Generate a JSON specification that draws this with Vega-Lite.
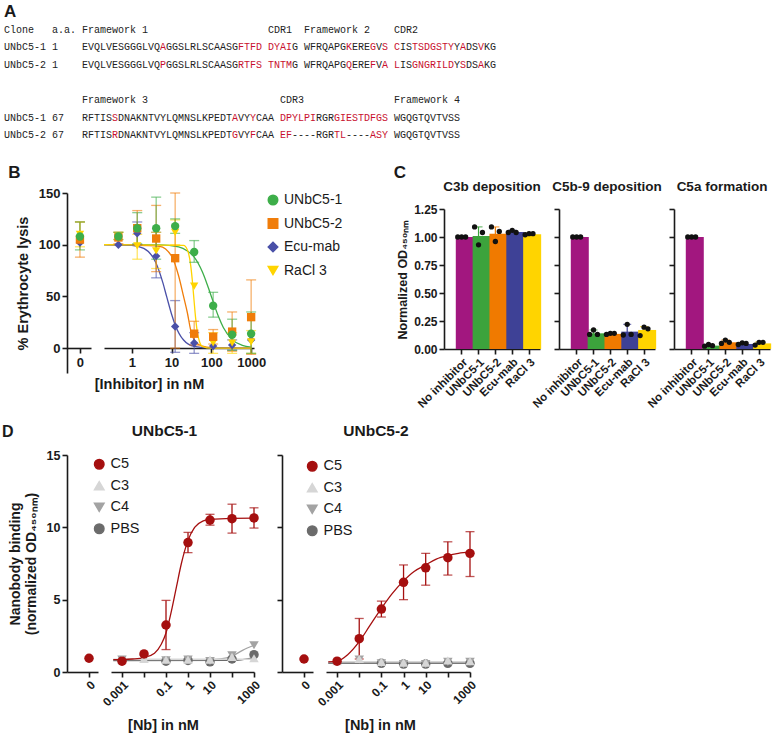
{
  "$schema": "https://vega.github.io/schema/vega-lite/v6.json",
  "background": "white",
  "padding": {"left": 2, "top": 2, "right": 2, "bottom": 2},
  "spacing": 13,
  "resolve": {"scale": {"color": "independent", "shape": "independent"}, "legend": {"color": "independent", "shape": "independent"}},
  "config": {
    "font": "Liberation Sans",
    "view": {"stroke": null},
    "axis": {"grid": false, "domainColor": "#1a1a1a", "tickColor": "#1a1a1a", "domainWidth": 1.6, "tickWidth": 1.6, "tickSize": 5, "labelColor": "#1a1a1a", "labelFontWeight": "bold", "labelFont": "Liberation Sans", "titleFont": "Liberation Sans", "titleFontWeight": "bold", "titleColor": "#1a1a1a"},
    "legend": {"labelFont": "Liberation Sans", "labelColor": "#1a1a1a"},
    "title": {"font": "Liberation Sans", "color": "#1a1a1a"}
  },
  "datasets": {
    "seq": [
      {"line": 1, "col": 0, "txt": "Clone", "hl": "n"},
      {"line": 1, "col": 8, "txt": "a.a.", "hl": "n"},
      {"line": 1, "col": 13, "txt": "Framework 1", "hl": "n"},
      {"line": 1, "col": 44, "txt": "CDR1", "hl": "n"},
      {"line": 1, "col": 50, "txt": "Framework 2", "hl": "n"},
      {"line": 1, "col": 65, "txt": "CDR2", "hl": "n"},
      {"line": 2, "col": 0, "txt": "UNbC5-1", "hl": "n"},
      {"line": 2, "col": 8, "txt": "1", "hl": "n"},
      {"line": 2, "col": 13, "txt": "EVQLVESGGGLVQ", "hl": "n"},
      {"line": 2, "col": 26, "txt": "A", "hl": "r"},
      {"line": 2, "col": 27, "txt": "GGSLRLSCAASG", "hl": "n"},
      {"line": 2, "col": 39, "txt": "FTFD", "hl": "r"},
      {"line": 2, "col": 44, "txt": "DYAI", "hl": "r"},
      {"line": 2, "col": 48, "txt": "G", "hl": "n"},
      {"line": 2, "col": 50, "txt": "WFRQAPG", "hl": "n"},
      {"line": 2, "col": 57, "txt": "K", "hl": "r"},
      {"line": 2, "col": 58, "txt": "ERE", "hl": "n"},
      {"line": 2, "col": 61, "txt": "G", "hl": "r"},
      {"line": 2, "col": 62, "txt": "V", "hl": "n"},
      {"line": 2, "col": 63, "txt": "S", "hl": "r"},
      {"line": 2, "col": 65, "txt": "C", "hl": "r"},
      {"line": 2, "col": 66, "txt": "IS", "hl": "n"},
      {"line": 2, "col": 68, "txt": "TSDGSTY", "hl": "r"},
      {"line": 2, "col": 75, "txt": "Y", "hl": "n"},
      {"line": 2, "col": 76, "txt": "A", "hl": "r"},
      {"line": 2, "col": 77, "txt": "DS", "hl": "n"},
      {"line": 2, "col": 79, "txt": "V", "hl": "r"},
      {"line": 2, "col": 80, "txt": "KG", "hl": "n"},
      {"line": 3, "col": 0, "txt": "UNbC5-2", "hl": "n"},
      {"line": 3, "col": 8, "txt": "1", "hl": "n"},
      {"line": 3, "col": 13, "txt": "EVQLVESGGGLVQ", "hl": "n"},
      {"line": 3, "col": 26, "txt": "P", "hl": "r"},
      {"line": 3, "col": 27, "txt": "GGSLRLSCAASG", "hl": "n"},
      {"line": 3, "col": 39, "txt": "RTFS", "hl": "r"},
      {"line": 3, "col": 44, "txt": "TNTM", "hl": "r"},
      {"line": 3, "col": 48, "txt": "G", "hl": "n"},
      {"line": 3, "col": 50, "txt": "WFRQAPG", "hl": "n"},
      {"line": 3, "col": 57, "txt": "Q", "hl": "r"},
      {"line": 3, "col": 58, "txt": "ERE", "hl": "n"},
      {"line": 3, "col": 61, "txt": "F", "hl": "r"},
      {"line": 3, "col": 62, "txt": "V", "hl": "n"},
      {"line": 3, "col": 63, "txt": "A", "hl": "r"},
      {"line": 3, "col": 65, "txt": "L", "hl": "r"},
      {"line": 3, "col": 66, "txt": "IS", "hl": "n"},
      {"line": 3, "col": 68, "txt": "GNGRILD", "hl": "r"},
      {"line": 3, "col": 75, "txt": "Y", "hl": "n"},
      {"line": 3, "col": 76, "txt": "S", "hl": "r"},
      {"line": 3, "col": 77, "txt": "DS", "hl": "n"},
      {"line": 3, "col": 79, "txt": "A", "hl": "r"},
      {"line": 3, "col": 80, "txt": "KG", "hl": "n"},
      {"line": 5, "col": 13, "txt": "Framework 3", "hl": "n"},
      {"line": 5, "col": 46, "txt": "CDR3", "hl": "n"},
      {"line": 5, "col": 65, "txt": "Framework 4", "hl": "n"},
      {"line": 6, "col": 0, "txt": "UNbC5-1", "hl": "n"},
      {"line": 6, "col": 8, "txt": "67", "hl": "n"},
      {"line": 6, "col": 13, "txt": "RFTIS", "hl": "n"},
      {"line": 6, "col": 18, "txt": "S", "hl": "r"},
      {"line": 6, "col": 19, "txt": "DNAKNTVYLQMNSLKPEDT", "hl": "n"},
      {"line": 6, "col": 38, "txt": "A", "hl": "r"},
      {"line": 6, "col": 39, "txt": "VY", "hl": "n"},
      {"line": 6, "col": 41, "txt": "Y", "hl": "r"},
      {"line": 6, "col": 42, "txt": "CAA", "hl": "n"},
      {"line": 6, "col": 46, "txt": "DPYLPI", "hl": "r"},
      {"line": 6, "col": 52, "txt": "RGR", "hl": "n"},
      {"line": 6, "col": 55, "txt": "GIESTDFGS", "hl": "r"},
      {"line": 6, "col": 65, "txt": "WGQGTQVTVSS", "hl": "n"},
      {"line": 7, "col": 0, "txt": "UNbC5-2", "hl": "n"},
      {"line": 7, "col": 8, "txt": "67", "hl": "n"},
      {"line": 7, "col": 13, "txt": "RFTIS", "hl": "n"},
      {"line": 7, "col": 18, "txt": "R", "hl": "r"},
      {"line": 7, "col": 19, "txt": "DNAKNTVYLQMNSLKPEDT", "hl": "n"},
      {"line": 7, "col": 38, "txt": "G", "hl": "r"},
      {"line": 7, "col": 39, "txt": "VY", "hl": "n"},
      {"line": 7, "col": 41, "txt": "F", "hl": "r"},
      {"line": 7, "col": 42, "txt": "CAA", "hl": "n"},
      {"line": 7, "col": 46, "txt": "EF", "hl": "r"},
      {"line": 7, "col": 48, "txt": "----RGR", "hl": "n"},
      {"line": 7, "col": 55, "txt": "TL", "hl": "r"},
      {"line": 7, "col": 57, "txt": "----", "hl": "n"},
      {"line": 7, "col": 61, "txt": "ASY", "hl": "r"},
      {"line": 7, "col": 65, "txt": "WGQGTQVTVSS", "hl": "n"}
    ],
    "lysis": [
      {"s": "Ecu-mab", "conc": 0, "m": 102},
      {"s": "Ecu-mab", "conc": 0.46, "m": 100},
      {"s": "Ecu-mab", "conc": 1.37, "m": 111, "lo": 100, "hi": 122},
      {"s": "Ecu-mab", "conc": 4.1, "m": 89, "lo": 68, "hi": 112},
      {"s": "Ecu-mab", "conc": 12.3, "m": 21, "lo": -4, "hi": 46},
      {"s": "Ecu-mab", "conc": 37, "m": 5, "lo": -5, "hi": 15},
      {"s": "Ecu-mab", "conc": 111, "m": 2},
      {"s": "Ecu-mab", "conc": 333, "m": 3, "lo": -2, "hi": 8},
      {"s": "Ecu-mab", "conc": 1000, "m": 8},
      {"s": "RaCl 3", "conc": 0, "m": 110, "lo": 98, "hi": 122},
      {"s": "RaCl 3", "conc": 0.46, "m": 108, "lo": 105, "hi": 112},
      {"s": "RaCl 3", "conc": 1.37, "m": 99, "lo": 86, "hi": 110},
      {"s": "RaCl 3", "conc": 4.1, "m": 94, "lo": 77, "hi": 112},
      {"s": "RaCl 3", "conc": 12.3, "m": 112, "lo": 100, "hi": 124},
      {"s": "RaCl 3", "conc": 37, "m": 60},
      {"s": "RaCl 3", "conc": 111, "m": 5, "lo": -5, "hi": 15},
      {"s": "RaCl 3", "conc": 333, "m": 5, "lo": -5, "hi": 15},
      {"s": "RaCl 3", "conc": 1000, "m": 6, "lo": -5, "hi": 17},
      {"s": "UNbC5-2", "conc": 0, "m": 105, "lo": 88, "hi": 122},
      {"s": "UNbC5-2", "conc": 0.46, "m": 107, "lo": 101, "hi": 112},
      {"s": "UNbC5-2", "conc": 1.37, "m": 116, "lo": 100, "hi": 133},
      {"s": "UNbC5-2", "conc": 4.1, "m": 106, "lo": 74, "hi": 138},
      {"s": "UNbC5-2", "conc": 12.3, "m": 87, "lo": 0, "hi": 150},
      {"s": "UNbC5-2", "conc": 37, "m": 14, "lo": 3, "hi": 26},
      {"s": "UNbC5-2", "conc": 111, "m": 11, "lo": 4, "hi": 18},
      {"s": "UNbC5-2", "conc": 333, "m": 16, "lo": -3, "hi": 35},
      {"s": "UNbC5-2", "conc": 1000, "m": 30, "lo": -6, "hi": 66},
      {"s": "UNbC5-1", "conc": 0, "m": 108, "lo": 95, "hi": 122},
      {"s": "UNbC5-1", "conc": 0.46, "m": 108, "lo": 105, "hi": 112},
      {"s": "UNbC5-1", "conc": 1.37, "m": 116, "lo": 101, "hi": 131},
      {"s": "UNbC5-1", "conc": 4.1, "m": 116, "lo": 86, "hi": 146},
      {"s": "UNbC5-1", "conc": 12.3, "m": 118, "lo": 111, "hi": 125},
      {"s": "UNbC5-1", "conc": 37, "m": 93, "lo": 83, "hi": 104},
      {"s": "UNbC5-1", "conc": 111, "m": 41, "lo": 30, "hi": 54},
      {"s": "UNbC5-1", "conc": 333, "m": 13, "lo": -2, "hi": 28},
      {"s": "UNbC5-1", "conc": 1000, "m": 14, "lo": -5, "hi": 35}
    ],
    "lysisFit": [
      {"s": "UNbC5-1", "conc": 0.2, "m": 100}, {"s": "UNbC5-1", "conc": 5, "m": 99.8}, {"s": "UNbC5-1", "conc": 15, "m": 98}, {"s": "UNbC5-1", "conc": 25, "m": 94}, {"s": "UNbC5-1", "conc": 37, "m": 88}, {"s": "UNbC5-1", "conc": 60, "m": 73.5}, {"s": "UNbC5-1", "conc": 100, "m": 50}, {"s": "UNbC5-1", "conc": 150, "m": 30.8}, {"s": "UNbC5-1", "conc": 200, "m": 20}, {"s": "UNbC5-1", "conc": 333, "m": 8.3}, {"s": "UNbC5-1", "conc": 600, "m": 2.7}, {"s": "UNbC5-1", "conc": 1000, "m": 1},
      {"s": "UNbC5-2", "conc": 0.2, "m": 100}, {"s": "UNbC5-2", "conc": 5, "m": 98.5}, {"s": "UNbC5-2", "conc": 10, "m": 89}, {"s": "UNbC5-2", "conc": 15, "m": 70}, {"s": "UNbC5-2", "conc": 20, "m": 50}, {"s": "UNbC5-2", "conc": 25, "m": 34}, {"s": "UNbC5-2", "conc": 30, "m": 18}, {"s": "UNbC5-2", "conc": 40, "m": 6}, {"s": "UNbC5-2", "conc": 60, "m": 1.9}, {"s": "UNbC5-2", "conc": 100, "m": 0.5}, {"s": "UNbC5-2", "conc": 1000, "m": 0},
      {"s": "Ecu-mab", "conc": 0.2, "m": 100}, {"s": "Ecu-mab", "conc": 1, "m": 99.4}, {"s": "Ecu-mab", "conc": 2, "m": 96.5}, {"s": "Ecu-mab", "conc": 4, "m": 82.8}, {"s": "Ecu-mab", "conc": 6, "m": 63.6}, {"s": "Ecu-mab", "conc": 7.5, "m": 50}, {"s": "Ecu-mab", "conc": 10, "m": 32.8}, {"s": "Ecu-mab", "conc": 12.3, "m": 22.5}, {"s": "Ecu-mab", "conc": 20, "m": 7.9}, {"s": "Ecu-mab", "conc": 37, "m": 1.8}, {"s": "Ecu-mab", "conc": 100, "m": 0.2}, {"s": "Ecu-mab", "conc": 1000, "m": 0},
      {"s": "RaCl 3", "conc": 0.2, "m": 100}, {"s": "RaCl 3", "conc": 20, "m": 99.3}, {"s": "RaCl 3", "conc": 25, "m": 95}, {"s": "RaCl 3", "conc": 30, "m": 81}, {"s": "RaCl 3", "conc": 33, "m": 66.6}, {"s": "RaCl 3", "conc": 36, "m": 50}, {"s": "RaCl 3", "conc": 40, "m": 30}, {"s": "RaCl 3", "conc": 45, "m": 14}, {"s": "RaCl 3", "conc": 50, "m": 6.7}, {"s": "RaCl 3", "conc": 60, "m": 1.6}, {"s": "RaCl 3", "conc": 100, "m": 0.1}, {"s": "RaCl 3", "conc": 1000, "m": 0}
    ],
    "cbar": [
      {"assay": "C3b", "g": "No inhibitor", "m": 1.0},
      {"assay": "C3b", "g": "UNbC5-1", "m": 1.01, "lo": 0.93, "hi": 1.09},
      {"assay": "C3b", "g": "UNbC5-2", "m": 1.03, "lo": 0.96, "hi": 1.09},
      {"assay": "C3b", "g": "Ecu-mab", "m": 1.045, "lo": 1.03, "hi": 1.06},
      {"assay": "C3b", "g": "RaCl 3", "m": 1.025, "lo": 1.01, "hi": 1.035},
      {"assay": "C5b-9", "g": "No inhibitor", "m": 1.0},
      {"assay": "C5b-9", "g": "UNbC5-1", "m": 0.14, "lo": 0.11, "hi": 0.17},
      {"assay": "C5b-9", "g": "UNbC5-2", "m": 0.135, "lo": 0.125, "hi": 0.145},
      {"assay": "C5b-9", "g": "Ecu-mab", "m": 0.155, "lo": 0.09, "hi": 0.22},
      {"assay": "C5b-9", "g": "RaCl 3", "m": 0.17, "lo": 0.13, "hi": 0.2},
      {"assay": "C5a", "g": "No inhibitor", "m": 1.0},
      {"assay": "C5a", "g": "UNbC5-1", "m": 0.03, "lo": 0.02, "hi": 0.04},
      {"assay": "C5a", "g": "UNbC5-2", "m": 0.06, "lo": 0.045, "hi": 0.08},
      {"assay": "C5a", "g": "Ecu-mab", "m": 0.045, "lo": 0.035, "hi": 0.055},
      {"assay": "C5a", "g": "RaCl 3", "m": 0.05, "lo": 0.035, "hi": 0.062}
    ],
    "cdot": [
      {"assay": "C3b", "g": "No inhibitor", "rep": 1, "v": 1.0}, {"assay": "C3b", "g": "No inhibitor", "rep": 2, "v": 1.0}, {"assay": "C3b", "g": "No inhibitor", "rep": 3, "v": 1.0},
      {"assay": "C3b", "g": "UNbC5-1", "rep": 1, "v": 1.09}, {"assay": "C3b", "g": "UNbC5-1", "rep": 2, "v": 0.93}, {"assay": "C3b", "g": "UNbC5-1", "rep": 3, "v": 1.04},
      {"assay": "C3b", "g": "UNbC5-2", "rep": 1, "v": 1.09}, {"assay": "C3b", "g": "UNbC5-2", "rep": 2, "v": 0.96}, {"assay": "C3b", "g": "UNbC5-2", "rep": 3, "v": 1.05},
      {"assay": "C3b", "g": "Ecu-mab", "rep": 1, "v": 1.04}, {"assay": "C3b", "g": "Ecu-mab", "rep": 2, "v": 1.06}, {"assay": "C3b", "g": "Ecu-mab", "rep": 3, "v": 1.04},
      {"assay": "C3b", "g": "RaCl 3", "rep": 1, "v": 1.02}, {"assay": "C3b", "g": "RaCl 3", "rep": 2, "v": 1.03}, {"assay": "C3b", "g": "RaCl 3", "rep": 3, "v": 1.03},
      {"assay": "C5b-9", "g": "No inhibitor", "rep": 1, "v": 1.0}, {"assay": "C5b-9", "g": "No inhibitor", "rep": 2, "v": 1.0}, {"assay": "C5b-9", "g": "No inhibitor", "rep": 3, "v": 1.0},
      {"assay": "C5b-9", "g": "UNbC5-1", "rep": 1, "v": 0.13}, {"assay": "C5b-9", "g": "UNbC5-1", "rep": 2, "v": 0.17}, {"assay": "C5b-9", "g": "UNbC5-1", "rep": 3, "v": 0.13},
      {"assay": "C5b-9", "g": "UNbC5-2", "rep": 1, "v": 0.13}, {"assay": "C5b-9", "g": "UNbC5-2", "rep": 2, "v": 0.14}, {"assay": "C5b-9", "g": "UNbC5-2", "rep": 3, "v": 0.14},
      {"assay": "C5b-9", "g": "Ecu-mab", "rep": 1, "v": 0.125}, {"assay": "C5b-9", "g": "Ecu-mab", "rep": 2, "v": 0.22}, {"assay": "C5b-9", "g": "Ecu-mab", "rep": 3, "v": 0.13},
      {"assay": "C5b-9", "g": "RaCl 3", "rep": 1, "v": 0.12}, {"assay": "C5b-9", "g": "RaCl 3", "rep": 2, "v": 0.195}, {"assay": "C5b-9", "g": "RaCl 3", "rep": 3, "v": 0.18},
      {"assay": "C5a", "g": "No inhibitor", "rep": 1, "v": 1.0}, {"assay": "C5a", "g": "No inhibitor", "rep": 2, "v": 1.0}, {"assay": "C5a", "g": "No inhibitor", "rep": 3, "v": 1.0},
      {"assay": "C5a", "g": "UNbC5-1", "rep": 1, "v": 0.025}, {"assay": "C5a", "g": "UNbC5-1", "rep": 2, "v": 0.04}, {"assay": "C5a", "g": "UNbC5-1", "rep": 3, "v": 0.03},
      {"assay": "C5a", "g": "UNbC5-2", "rep": 1, "v": 0.05}, {"assay": "C5a", "g": "UNbC5-2", "rep": 2, "v": 0.08}, {"assay": "C5a", "g": "UNbC5-2", "rep": 3, "v": 0.06},
      {"assay": "C5a", "g": "Ecu-mab", "rep": 1, "v": 0.04}, {"assay": "C5a", "g": "Ecu-mab", "rep": 2, "v": 0.055}, {"assay": "C5a", "g": "Ecu-mab", "rep": 3, "v": 0.05},
      {"assay": "C5a", "g": "RaCl 3", "rep": 1, "v": 0.035}, {"assay": "C5a", "g": "RaCl 3", "rep": 2, "v": 0.06}, {"assay": "C5a", "g": "RaCl 3", "rep": 3, "v": 0.06}
    ],
    "bind": [
      {"nb": "UNbC5-1", "t": "PBS", "conc": 0.1, "m": 0.75}, {"nb": "UNbC5-1", "t": "PBS", "conc": 1, "m": 0.8}, {"nb": "UNbC5-1", "t": "PBS", "conc": 10, "m": 0.7}, {"nb": "UNbC5-1", "t": "PBS", "conc": 100, "m": 0.9}, {"nb": "UNbC5-1", "t": "PBS", "conc": 1000, "m": 1.2},
      {"nb": "UNbC5-1", "t": "C4", "conc": 0.001, "m": 0.85}, {"nb": "UNbC5-1", "t": "C4", "conc": 0.01, "m": 0.9}, {"nb": "UNbC5-1", "t": "C4", "conc": 0.1, "m": 0.8}, {"nb": "UNbC5-1", "t": "C4", "conc": 1, "m": 0.85}, {"nb": "UNbC5-1", "t": "C4", "conc": 10, "m": 0.75}, {"nb": "UNbC5-1", "t": "C4", "conc": 100, "m": 1.15}, {"nb": "UNbC5-1", "t": "C4", "conc": 1000, "m": 1.85},
      {"nb": "UNbC5-1", "t": "C3", "conc": 0.001, "m": 0.85}, {"nb": "UNbC5-1", "t": "C3", "conc": 0.01, "m": 0.9}, {"nb": "UNbC5-1", "t": "C3", "conc": 0.1, "m": 0.85}, {"nb": "UNbC5-1", "t": "C3", "conc": 1, "m": 0.85}, {"nb": "UNbC5-1", "t": "C3", "conc": 10, "m": 0.85}, {"nb": "UNbC5-1", "t": "C3", "conc": 100, "m": 1.05}, {"nb": "UNbC5-1", "t": "C3", "conc": 1000, "m": 0.95},
      {"nb": "UNbC5-1", "t": "C5", "conc": 0, "m": 0.95}, {"nb": "UNbC5-1", "t": "C5", "conc": 0.001, "m": 0.75}, {"nb": "UNbC5-1", "t": "C5", "conc": 0.01, "m": 1.25}, {"nb": "UNbC5-1", "t": "C5", "conc": 0.1, "m": 3.25, "lo": 1.55, "hi": 4.95}, {"nb": "UNbC5-1", "t": "C5", "conc": 1, "m": 8.95, "lo": 8.25, "hi": 9.65}, {"nb": "UNbC5-1", "t": "C5", "conc": 10, "m": 10.5, "lo": 10.15, "hi": 10.9}, {"nb": "UNbC5-1", "t": "C5", "conc": 100, "m": 10.6, "lo": 9.6, "hi": 11.6}, {"nb": "UNbC5-1", "t": "C5", "conc": 1000, "m": 10.65, "lo": 9.95, "hi": 11.35},
      {"nb": "UNbC5-2", "t": "PBS", "conc": 0.1, "m": 0.6}, {"nb": "UNbC5-2", "t": "PBS", "conc": 1, "m": 0.55}, {"nb": "UNbC5-2", "t": "PBS", "conc": 10, "m": 0.55}, {"nb": "UNbC5-2", "t": "PBS", "conc": 100, "m": 0.6}, {"nb": "UNbC5-2", "t": "PBS", "conc": 1000, "m": 0.6},
      {"nb": "UNbC5-2", "t": "C4", "conc": 0.01, "m": 0.85}, {"nb": "UNbC5-2", "t": "C4", "conc": 0.1, "m": 0.6}, {"nb": "UNbC5-2", "t": "C4", "conc": 1, "m": 0.55}, {"nb": "UNbC5-2", "t": "C4", "conc": 10, "m": 0.55}, {"nb": "UNbC5-2", "t": "C4", "conc": 100, "m": 0.7}, {"nb": "UNbC5-2", "t": "C4", "conc": 1000, "m": 0.7},
      {"nb": "UNbC5-2", "t": "C3", "conc": 0.001, "m": 0.75}, {"nb": "UNbC5-2", "t": "C3", "conc": 0.01, "m": 0.9}, {"nb": "UNbC5-2", "t": "C3", "conc": 0.1, "m": 0.7}, {"nb": "UNbC5-2", "t": "C3", "conc": 1, "m": 0.65}, {"nb": "UNbC5-2", "t": "C3", "conc": 10, "m": 0.65}, {"nb": "UNbC5-2", "t": "C3", "conc": 100, "m": 0.8}, {"nb": "UNbC5-2", "t": "C3", "conc": 1000, "m": 0.75},
      {"nb": "UNbC5-2", "t": "C5", "conc": 0, "m": 0.9}, {"nb": "UNbC5-2", "t": "C5", "conc": 0.001, "m": 0.75}, {"nb": "UNbC5-2", "t": "C5", "conc": 0.01, "m": 2.3, "lo": 0.9, "hi": 3.7}, {"nb": "UNbC5-2", "t": "C5", "conc": 0.1, "m": 4.35, "lo": 3.8, "hi": 4.9}, {"nb": "UNbC5-2", "t": "C5", "conc": 1, "m": 6.2, "lo": 5.0, "hi": 7.4}, {"nb": "UNbC5-2", "t": "C5", "conc": 10, "m": 7.2, "lo": 6.0, "hi": 8.2}, {"nb": "UNbC5-2", "t": "C5", "conc": 100, "m": 7.9, "lo": 6.7, "hi": 9.0}, {"nb": "UNbC5-2", "t": "C5", "conc": 1000, "m": 8.2, "lo": 6.6, "hi": 9.7}
    ],
    "bindFit": [
      {"nb": "UNbC5-1", "t": "PBS", "conc": 0.0004, "m": 0.78}, {"nb": "UNbC5-1", "t": "PBS", "conc": 100, "m": 0.8}, {"nb": "UNbC5-1", "t": "PBS", "conc": 1000, "m": 1.0},
      {"nb": "UNbC5-1", "t": "C4", "conc": 0.0004, "m": 0.85}, {"nb": "UNbC5-1", "t": "C4", "conc": 10, "m": 0.85}, {"nb": "UNbC5-1", "t": "C4", "conc": 30, "m": 0.9}, {"nb": "UNbC5-1", "t": "C4", "conc": 100, "m": 1.1}, {"nb": "UNbC5-1", "t": "C4", "conc": 300, "m": 1.5}, {"nb": "UNbC5-1", "t": "C4", "conc": 1000, "m": 1.85},
      {"nb": "UNbC5-1", "t": "C3", "conc": 0.0004, "m": 0.88}, {"nb": "UNbC5-1", "t": "C3", "conc": 1000, "m": 0.88},
      {"nb": "UNbC5-1", "t": "C5", "conc": 0.0004, "m": 0.85}, {"nb": "UNbC5-1", "t": "C5", "conc": 0.001, "m": 0.86}, {"nb": "UNbC5-1", "t": "C5", "conc": 0.003, "m": 0.9}, {"nb": "UNbC5-1", "t": "C5", "conc": 0.01, "m": 1.0}, {"nb": "UNbC5-1", "t": "C5", "conc": 0.03, "m": 1.3}, {"nb": "UNbC5-1", "t": "C5", "conc": 0.06, "m": 1.9}, {"nb": "UNbC5-1", "t": "C5", "conc": 0.1, "m": 2.7}, {"nb": "UNbC5-1", "t": "C5", "conc": 0.2, "m": 4.6}, {"nb": "UNbC5-1", "t": "C5", "conc": 0.3, "m": 5.9}, {"nb": "UNbC5-1", "t": "C5", "conc": 0.5, "m": 7.5}, {"nb": "UNbC5-1", "t": "C5", "conc": 1, "m": 9.1}, {"nb": "UNbC5-1", "t": "C5", "conc": 2, "m": 10.0}, {"nb": "UNbC5-1", "t": "C5", "conc": 5, "m": 10.45}, {"nb": "UNbC5-1", "t": "C5", "conc": 10, "m": 10.55}, {"nb": "UNbC5-1", "t": "C5", "conc": 100, "m": 10.62}, {"nb": "UNbC5-1", "t": "C5", "conc": 1000, "m": 10.63},
      {"nb": "UNbC5-2", "t": "PBS", "conc": 0.0004, "m": 0.6}, {"nb": "UNbC5-2", "t": "PBS", "conc": 1000, "m": 0.6},
      {"nb": "UNbC5-2", "t": "C4", "conc": 0.0004, "m": 0.65}, {"nb": "UNbC5-2", "t": "C4", "conc": 1000, "m": 0.65},
      {"nb": "UNbC5-2", "t": "C3", "conc": 0.0004, "m": 0.72}, {"nb": "UNbC5-2", "t": "C3", "conc": 1000, "m": 0.72},
      {"nb": "UNbC5-2", "t": "C5", "conc": 0.0004, "m": 0.7}, {"nb": "UNbC5-2", "t": "C5", "conc": 0.001, "m": 0.75}, {"nb": "UNbC5-2", "t": "C5", "conc": 0.003, "m": 1.2}, {"nb": "UNbC5-2", "t": "C5", "conc": 0.01, "m": 2.1}, {"nb": "UNbC5-2", "t": "C5", "conc": 0.03, "m": 3.2}, {"nb": "UNbC5-2", "t": "C5", "conc": 0.1, "m": 4.4}, {"nb": "UNbC5-2", "t": "C5", "conc": 0.3, "m": 5.4}, {"nb": "UNbC5-2", "t": "C5", "conc": 1, "m": 6.3}, {"nb": "UNbC5-2", "t": "C5", "conc": 3, "m": 6.95}, {"nb": "UNbC5-2", "t": "C5", "conc": 10, "m": 7.4}, {"nb": "UNbC5-2", "t": "C5", "conc": 30, "m": 7.8}, {"nb": "UNbC5-2", "t": "C5", "conc": 100, "m": 8.05}, {"nb": "UNbC5-2", "t": "C5", "conc": 300, "m": 8.2}, {"nb": "UNbC5-2", "t": "C5", "conc": 1000, "m": 8.3}
    ]
  },
  "vconcat": [
    {
      "width": 500,
      "height": 148,
      "layer": [
        {
          "data": {"name": "seq"},
          "mark": {"type": "text", "font": "Liberation Mono", "fontSize": 10, "align": "left", "baseline": "middle"},
          "encoding": {
            "x": {"field": "col", "type": "quantitative", "scale": {"domain": [10.5, 93.833], "nice": false, "zero": false}, "axis": null},
            "y": {"field": "line", "type": "quantitative", "scale": {"domain": [-0.57, 7.84], "nice": false, "zero": false, "reverse": true}, "axis": null},
            "text": {"field": "txt"},
            "color": {"field": "hl", "type": "nominal", "scale": {"domain": ["n", "r"], "range": ["#222222", "#C8102E"]}, "legend": null}
          }
        },
        {
          "data": {"values": [{"line": 0, "col": 0, "txt": "A"}]},
          "mark": {"type": "text", "font": "Liberation Sans", "fontSize": 17, "fontWeight": "bold", "align": "left", "baseline": "middle", "color": "#1a1a1a"},
          "encoding": {
            "x": {"field": "col", "type": "quantitative", "scale": {"domain": [10.5, 93.833], "nice": false, "zero": false}, "axis": null},
            "y": {"field": "line", "type": "quantitative", "scale": {"domain": [-0.57, 7.84], "nice": false, "zero": false, "reverse": true}, "axis": null},
            "text": {"field": "txt"}
          }
        }
      ]
    },
    {
      "spacing": 50,
      "resolve": {"scale": {"color": "independent", "shape": "independent"}, "legend": {"color": "independent", "shape": "independent"}},
      "hconcat": [
        {
          "bounds": "flush",
          "spacing": 13,
          "resolve": {"scale": {"color": "independent", "shape": "independent"}, "legend": {"color": "independent", "shape": "independent"}},
          "hconcat": [
            {
              "width": 24,
              "height": 180,
              "title": {"text": "B", "anchor": "start", "frame": "bounds", "fontSize": 17, "fontWeight": "bold", "offset": 5, "dx": -7},
              "data": {"name": "lysis"},
              "transform": [{"filter": "datum.conc == 0"}],
              "encoding": {
                "x": {"field": "conc", "type": "quantitative", "scale": {"domain": [-1.17, 1], "nice": false, "zero": false}, "axis": {"values": [0], "title": null, "offset": -25, "labelFontSize": 13, "labelPadding": 3}},
                "color": {"field": "s", "type": "nominal", "scale": {"domain": ["UNbC5-1", "UNbC5-2", "Ecu-mab", "RaCl 3"], "range": ["#3DAE49", "#F07D0A", "#4A50A8", "#FFD400"]}, "legend": null}
              },
              "layer": [
                {
                  "transform": [{"filter": "datum.lo != null"}],
                  "mark": {"type": "errorbar", "ticks": {"size": 10}, "thickness": 1.3, "opacity": 0.6},
                  "encoding": {
                    "y": {"field": "lo", "type": "quantitative", "scale": {"domain": [-24, 150], "nice": false, "zero": false}, "axis": {"values": [0, 50, 100, 150], "title": "% Erythrocyte lysis", "titleFontSize": 14.5, "labelFontSize": 13, "titlePadding": 8}},
                    "y2": {"field": "hi"}
                  }
                },
                {
                  "mark": {"type": "point", "filled": true, "size": 70, "opacity": 1},
                  "encoding": {
                    "y": {"field": "m", "type": "quantitative", "scale": {"domain": [-24, 150], "nice": false, "zero": false}, "axis": {"values": [0, 50, 100, 150], "title": "% Erythrocyte lysis", "titleFontSize": 14.5, "labelFontSize": 13, "titlePadding": 8}},
                    "shape": {"field": "s", "type": "nominal", "scale": {"domain": ["UNbC5-1", "UNbC5-2", "Ecu-mab", "RaCl 3"], "range": ["circle", "square", "diamond", "triangle-down"]}, "legend": null}
                  }
                }
              ]
            },
            {
              "width": 150,
              "height": 180,
              "encoding": {
                "x": {"field": "conc", "type": "quantitative", "scale": {"type": "log", "domain": [0.2, 1180], "nice": false}, "axis": {"values": [1, 10, 100, 1000], "format": "~g", "title": "[Inhibitor] in nM", "offset": -25, "labelFontSize": 13, "labelPadding": 3, "titleFontSize": 14.5, "titleX": 45, "titlePadding": 8}},
                "y": {"field": "m", "type": "quantitative", "scale": {"domain": [-24, 150], "nice": false, "zero": false}, "axis": null},
                "color": {"field": "s", "type": "nominal", "scale": {"domain": ["UNbC5-1", "UNbC5-2", "Ecu-mab", "RaCl 3"], "range": ["#3DAE49", "#F07D0A", "#4A50A8", "#FFD400"]}, "legend": {"title": null, "orient": "right", "offset": 12, "labelFontSize": 14, "labelFontWeight": "normal", "symbolSize": 90, "rowPadding": 7.5, "symbolOpacity": 1}}
              },
              "layer": [
                {
                  "data": {"name": "lysisFit"},
                  "mark": {"type": "line", "interpolate": "monotone", "strokeWidth": 1.3}
                },
                {
                  "data": {"name": "lysis"},
                  "transform": [{"filter": "datum.conc > 0 && datum.lo != null"}],
                  "mark": {"type": "errorbar", "ticks": {"size": 10}, "thickness": 1.3, "opacity": 0.6},
                  "encoding": {
                    "y": {"field": "lo", "type": "quantitative", "scale": {"domain": [-24, 150], "nice": false, "zero": false}, "axis": null},
                    "y2": {"field": "hi"}
                  }
                },
                {
                  "data": {"name": "lysis"},
                  "transform": [{"filter": "datum.conc > 0"}],
                  "mark": {"type": "point", "filled": true, "size": 70, "opacity": 1},
                  "encoding": {
                    "shape": {"field": "s", "type": "nominal", "scale": {"domain": ["UNbC5-1", "UNbC5-2", "Ecu-mab", "RaCl 3"], "range": ["circle", "square", "diamond", "triangle-down"]}, "legend": {"title": null, "orient": "right", "offset": 12, "labelFontSize": 14, "labelFontWeight": "normal", "symbolSize": 90, "rowPadding": 7.5, "symbolOpacity": 1}}
                  }
                }
              ]
            }
          ]
        },
        {
          "title": {"text": "C", "anchor": "start", "fontSize": 17, "fontWeight": "bold", "offset": -2, "dx": -3},
          "bounds": "flush",
          "spacing": 19,
          "resolve": {"scale": {"color": "independent", "shape": "independent"}, "legend": {"color": "independent", "shape": "independent"}},
          "hconcat": [
            {
              "width": 96,
              "height": 156,
              "title": {"text": "C3b deposition", "fontSize": 13.5, "fontWeight": "bold", "offset": 0},
              "layer": [
                {
                  "data": {"name": "cbar"},
                  "transform": [{"filter": "datum.assay == 'C3b'"}],
                  "mark": {"type": "bar"},
                  "encoding": {
                    "x": {"field": "g", "type": "nominal", "scale": {"domain": ["No inhibitor", "UNbC5-1", "UNbC5-2", "Ecu-mab", "RaCl 3"], "paddingInner": 0.3, "paddingOuter": 0.5, "align": 0.7}, "axis": {"labelAngle": -45, "title": null, "labelFontSize": 11.5, "labelPadding": 2}},
                    "y": {"field": "m", "type": "quantitative", "scale": {"domain": [0, 1.25], "range": [156, 16], "nice": false}, "axis": {"values": [0, 0.25, 0.5, 0.75, 1, 1.25], "format": ".2f", "title": "Normalized OD₄₅₀ₙₘ", "titleFontSize": 12.5, "labelFontSize": 12}},
                    "color": {"field": "g", "type": "nominal", "scale": {"domain": ["No inhibitor", "UNbC5-1", "UNbC5-2", "Ecu-mab", "RaCl 3"], "range": ["#A2177F", "#3CA33C", "#F07A00", "#3E4196", "#FFD400"]}, "legend": null}
                  }
                },
                {
                  "data": {"name": "cbar"},
                  "transform": [{"filter": "datum.assay == 'C3b' && datum.lo != null"}],
                  "mark": {"type": "errorbar", "ticks": {"size": 8}, "thickness": 1.2},
                  "encoding": {
                    "x": {"field": "g", "type": "nominal", "scale": {"domain": ["No inhibitor", "UNbC5-1", "UNbC5-2", "Ecu-mab", "RaCl 3"], "paddingInner": 0.3, "paddingOuter": 0.5, "align": 0.7}, "axis": {"labelAngle": -45, "title": null, "labelFontSize": 11.5, "labelPadding": 2}},
                    "y": {"field": "lo", "type": "quantitative", "scale": {"domain": [0, 1.25], "range": [156, 16], "nice": false}, "axis": {"values": [0, 0.25, 0.5, 0.75, 1, 1.25], "format": ".2f", "title": "Normalized OD₄₅₀ₙₘ", "titleFontSize": 12.5, "labelFontSize": 12}},
                    "y2": {"field": "hi"},
                    "color": {"field": "g", "type": "nominal", "scale": {"domain": ["No inhibitor", "UNbC5-1", "UNbC5-2", "Ecu-mab", "RaCl 3"], "range": ["#A2177F", "#3CA33C", "#F07A00", "#3E4196", "#FFD400"]}, "legend": null}
                  }
                },
                {
                  "data": {"name": "cdot"},
                  "transform": [{"filter": "datum.assay == 'C3b'"}],
                  "mark": {"type": "point", "filled": true, "size": 28, "color": "#111111", "opacity": 1},
                  "encoding": {
                    "x": {"field": "g", "type": "nominal", "scale": {"domain": ["No inhibitor", "UNbC5-1", "UNbC5-2", "Ecu-mab", "RaCl 3"], "paddingInner": 0.3, "paddingOuter": 0.5, "align": 0.7}, "axis": {"labelAngle": -45, "title": null, "labelFontSize": 11.5, "labelPadding": 2}},
                    "xOffset": {"field": "rep", "type": "nominal"},
                    "y": {"field": "v", "type": "quantitative", "scale": {"domain": [0, 1.25], "range": [156, 16], "nice": false}, "axis": {"values": [0, 0.25, 0.5, 0.75, 1, 1.25], "format": ".2f", "title": "Normalized OD₄₅₀ₙₘ", "titleFontSize": 12.5, "labelFontSize": 12}}
                  }
                }
              ]
            },
            {
              "width": 96,
              "height": 156,
              "title": {"text": "C5b-9 deposition", "fontSize": 13.5, "fontWeight": "bold", "offset": 0},
              "layer": [
                {
                  "data": {"name": "cbar"},
                  "transform": [{"filter": "datum.assay == 'C5b-9'"}],
                  "mark": {"type": "bar"},
                  "encoding": {
                    "x": {"field": "g", "type": "nominal", "scale": {"domain": ["No inhibitor", "UNbC5-1", "UNbC5-2", "Ecu-mab", "RaCl 3"], "paddingInner": 0.3, "paddingOuter": 0.5, "align": 0.7}, "axis": {"labelAngle": -45, "title": null, "labelFontSize": 11.5, "labelPadding": 2}},
                    "y": {"field": "m", "type": "quantitative", "scale": {"domain": [0, 1.25], "range": [156, 16], "nice": false}, "axis": {"values": [0, 0.25, 0.5, 0.75, 1, 1.25], "labels": false, "title": null}},
                    "color": {"field": "g", "type": "nominal", "scale": {"domain": ["No inhibitor", "UNbC5-1", "UNbC5-2", "Ecu-mab", "RaCl 3"], "range": ["#A2177F", "#3CA33C", "#F07A00", "#3E4196", "#FFD400"]}, "legend": null}
                  }
                },
                {
                  "data": {"name": "cbar"},
                  "transform": [{"filter": "datum.assay == 'C5b-9' && datum.lo != null"}],
                  "mark": {"type": "errorbar", "ticks": {"size": 8}, "thickness": 1.2},
                  "encoding": {
                    "x": {"field": "g", "type": "nominal", "scale": {"domain": ["No inhibitor", "UNbC5-1", "UNbC5-2", "Ecu-mab", "RaCl 3"], "paddingInner": 0.3, "paddingOuter": 0.5, "align": 0.7}, "axis": {"labelAngle": -45, "title": null, "labelFontSize": 11.5, "labelPadding": 2}},
                    "y": {"field": "lo", "type": "quantitative", "scale": {"domain": [0, 1.25], "range": [156, 16], "nice": false}, "axis": {"values": [0, 0.25, 0.5, 0.75, 1, 1.25], "labels": false, "title": null}},
                    "y2": {"field": "hi"},
                    "color": {"field": "g", "type": "nominal", "scale": {"domain": ["No inhibitor", "UNbC5-1", "UNbC5-2", "Ecu-mab", "RaCl 3"], "range": ["#A2177F", "#3CA33C", "#F07A00", "#3E4196", "#FFD400"]}, "legend": null}
                  }
                },
                {
                  "data": {"name": "cdot"},
                  "transform": [{"filter": "datum.assay == 'C5b-9'"}],
                  "mark": {"type": "point", "filled": true, "size": 28, "color": "#111111", "opacity": 1},
                  "encoding": {
                    "x": {"field": "g", "type": "nominal", "scale": {"domain": ["No inhibitor", "UNbC5-1", "UNbC5-2", "Ecu-mab", "RaCl 3"], "paddingInner": 0.3, "paddingOuter": 0.5, "align": 0.7}, "axis": {"labelAngle": -45, "title": null, "labelFontSize": 11.5, "labelPadding": 2}},
                    "xOffset": {"field": "rep", "type": "nominal"},
                    "y": {"field": "v", "type": "quantitative", "scale": {"domain": [0, 1.25], "range": [156, 16], "nice": false}, "axis": {"values": [0, 0.25, 0.5, 0.75, 1, 1.25], "labels": false, "title": null}}
                  }
                }
              ]
            },
            {
              "width": 96,
              "height": 156,
              "title": {"text": "C5a formation", "fontSize": 13.5, "fontWeight": "bold", "offset": 0},
              "layer": [
                {
                  "data": {"name": "cbar"},
                  "transform": [{"filter": "datum.assay == 'C5a'"}],
                  "mark": {"type": "bar"},
                  "encoding": {
                    "x": {"field": "g", "type": "nominal", "scale": {"domain": ["No inhibitor", "UNbC5-1", "UNbC5-2", "Ecu-mab", "RaCl 3"], "paddingInner": 0.3, "paddingOuter": 0.5, "align": 0.7}, "axis": {"labelAngle": -45, "title": null, "labelFontSize": 11.5, "labelPadding": 2}},
                    "y": {"field": "m", "type": "quantitative", "scale": {"domain": [0, 1.25], "range": [156, 16], "nice": false}, "axis": {"values": [0, 0.25, 0.5, 0.75, 1, 1.25], "labels": false, "title": null}},
                    "color": {"field": "g", "type": "nominal", "scale": {"domain": ["No inhibitor", "UNbC5-1", "UNbC5-2", "Ecu-mab", "RaCl 3"], "range": ["#A2177F", "#3CA33C", "#F07A00", "#3E4196", "#FFD400"]}, "legend": null}
                  }
                },
                {
                  "data": {"name": "cbar"},
                  "transform": [{"filter": "datum.assay == 'C5a' && datum.lo != null"}],
                  "mark": {"type": "errorbar", "ticks": {"size": 8}, "thickness": 1.2},
                  "encoding": {
                    "x": {"field": "g", "type": "nominal", "scale": {"domain": ["No inhibitor", "UNbC5-1", "UNbC5-2", "Ecu-mab", "RaCl 3"], "paddingInner": 0.3, "paddingOuter": 0.5, "align": 0.7}, "axis": {"labelAngle": -45, "title": null, "labelFontSize": 11.5, "labelPadding": 2}},
                    "y": {"field": "lo", "type": "quantitative", "scale": {"domain": [0, 1.25], "range": [156, 16], "nice": false}, "axis": {"values": [0, 0.25, 0.5, 0.75, 1, 1.25], "labels": false, "title": null}},
                    "y2": {"field": "hi"},
                    "color": {"field": "g", "type": "nominal", "scale": {"domain": ["No inhibitor", "UNbC5-1", "UNbC5-2", "Ecu-mab", "RaCl 3"], "range": ["#A2177F", "#3CA33C", "#F07A00", "#3E4196", "#FFD400"]}, "legend": null}
                  }
                },
                {
                  "data": {"name": "cdot"},
                  "transform": [{"filter": "datum.assay == 'C5a'"}],
                  "mark": {"type": "point", "filled": true, "size": 28, "color": "#111111", "opacity": 1},
                  "encoding": {
                    "x": {"field": "g", "type": "nominal", "scale": {"domain": ["No inhibitor", "UNbC5-1", "UNbC5-2", "Ecu-mab", "RaCl 3"], "paddingInner": 0.3, "paddingOuter": 0.5, "align": 0.7}, "axis": {"labelAngle": -45, "title": null, "labelFontSize": 11.5, "labelPadding": 2}},
                    "xOffset": {"field": "rep", "type": "nominal"},
                    "y": {"field": "v", "type": "quantitative", "scale": {"domain": [0, 1.25], "range": [156, 16], "nice": false}, "axis": {"values": [0, 0.25, 0.5, 0.75, 1, 1.25], "labels": false, "title": null}}
                  }
                }
              ]
            }
          ]
        }
      ]
    },
    {
      "spacing": 14,
      "resolve": {"scale": {"color": "independent", "shape": "independent"}, "legend": {"color": "independent", "shape": "independent"}},
      "hconcat": [
        {
          "bounds": "flush",
          "spacing": 13,
          "resolve": {"scale": {"color": "independent", "shape": "independent"}, "legend": {"color": "independent", "shape": "independent"}},
          "hconcat": [
            {
              "width": 31,
              "height": 217,
              "title": {"text": "D", "anchor": "start", "frame": "bounds", "fontSize": 16, "fontWeight": "bold", "offset": 9, "dx": -6},
              "data": {"name": "bind"},
              "transform": [{"filter": "datum.nb == 'UNbC5-1' && datum.conc == 0"}],
              "mark": {"type": "point", "filled": true, "size": 90, "opacity": 1},
              "encoding": {
                "x": {"field": "conc", "type": "quantitative", "scale": {"domain": [-2.45, 1], "nice": false, "zero": false}, "axis": {"values": [0], "title": null, "labelAngle": -45, "labelFontSize": 12}},
                "y": {"field": "m", "type": "quantitative", "scale": {"domain": [0, 15], "nice": false}, "axis": {"values": [0, 5, 10, 15], "title": ["Nanobody binding", "(normalized OD₄₅₀ₙₘ)"], "titleFontSize": 14, "labelFontSize": 12.5, "titlePadding": 8}},
                "color": {"field": "t", "type": "nominal", "scale": {"domain": ["C5", "C3", "C4", "PBS"], "range": ["#A50F0F", "#D6D6D6", "#A3A3A3", "#6B6B6B"]}, "legend": null},
                "shape": {"field": "t", "type": "nominal", "scale": {"domain": ["C5", "C3", "C4", "PBS"], "range": ["circle", "triangle-up", "triangle-down", "circle"]}, "legend": null}
              }
            },
            {
              "width": 143,
              "height": 217,
              "title": {"text": "UNbC5-1", "fontSize": 15.5, "fontWeight": "bold", "offset": 16, "dx": -18},
              "encoding": {
                "x": {"field": "conc", "type": "quantitative", "scale": {"type": "log", "domain": [0.000316, 1000], "nice": false}, "axis": {"values": [0.001, 0.01, 0.1, 1, 10, 100, 1000], "format": "~g", "title": "[Nb] in nM", "labelAngle": -45, "labelFontSize": 12, "titleFontSize": 14.5, "titleX": 52, "titlePadding": 10}},
                "y": {"field": "m", "type": "quantitative", "scale": {"domain": [0, 15], "nice": false}, "axis": null},
                "color": {"field": "t", "type": "nominal", "scale": {"domain": ["C5", "C3", "C4", "PBS"], "range": ["#A50F0F", "#D6D6D6", "#A3A3A3", "#6B6B6B"]}, "legend": {"title": null, "orient": "none", "legendX": -19, "legendY": 2, "labelFontSize": 14.5, "labelFontWeight": "normal", "symbolSize": 90, "rowPadding": 5.5, "symbolOpacity": 1}}
              },
              "layer": [
                {
                  "data": {"name": "bindFit"},
                  "transform": [{"filter": "datum.nb == 'UNbC5-1'"}],
                  "mark": {"type": "line", "interpolate": "monotone", "strokeWidth": 1.3}
                },
                {
                  "data": {"name": "bind"},
                  "transform": [{"filter": "datum.nb == 'UNbC5-1' && datum.conc > 0 && datum.lo != null"}],
                  "mark": {"type": "errorbar", "ticks": {"size": 9}, "thickness": 1.3},
                  "encoding": {
                    "y": {"field": "lo", "type": "quantitative", "scale": {"domain": [0, 15], "nice": false}, "axis": null},
                    "y2": {"field": "hi"}
                  }
                },
                {
                  "data": {"name": "bind"},
                  "transform": [{"filter": "datum.nb == 'UNbC5-1' && datum.conc > 0"}],
                  "mark": {"type": "point", "filled": true, "size": 90, "opacity": 1},
                  "encoding": {
                    "shape": {"field": "t", "type": "nominal", "scale": {"domain": ["C5", "C3", "C4", "PBS"], "range": ["circle", "triangle-up", "triangle-down", "circle"]}, "legend": {"title": null, "orient": "none", "legendX": -19, "legendY": 2, "labelFontSize": 14.5, "labelFontWeight": "normal", "symbolSize": 90, "rowPadding": 5.5, "symbolOpacity": 1}}
                  }
                }
              ]
            }
          ]
        },
        {
          "bounds": "flush",
          "spacing": 13,
          "resolve": {"scale": {"color": "independent", "shape": "independent"}, "legend": {"color": "independent", "shape": "independent"}},
          "hconcat": [
            {
              "width": 31,
              "height": 217,
              "data": {"name": "bind"},
              "transform": [{"filter": "datum.nb == 'UNbC5-2' && datum.conc == 0"}],
              "mark": {"type": "point", "filled": true, "size": 90, "opacity": 1},
              "encoding": {
                "x": {"field": "conc", "type": "quantitative", "scale": {"domain": [-2.45, 1], "nice": false, "zero": false}, "axis": {"values": [0], "title": null, "labelAngle": -45, "labelFontSize": 12}},
                "y": {"field": "m", "type": "quantitative", "scale": {"domain": [0, 15], "nice": false}, "axis": {"values": [0, 5, 10, 15], "labels": false, "title": null}},
                "color": {"field": "t", "type": "nominal", "scale": {"domain": ["C5", "C3", "C4", "PBS"], "range": ["#A50F0F", "#D6D6D6", "#A3A3A3", "#6B6B6B"]}, "legend": null},
                "shape": {"field": "t", "type": "nominal", "scale": {"domain": ["C5", "C3", "C4", "PBS"], "range": ["circle", "triangle-up", "triangle-down", "circle"]}, "legend": null}
              }
            },
            {
              "width": 144,
              "height": 217,
              "title": {"text": "UNbC5-2", "fontSize": 15.5, "fontWeight": "bold", "offset": 16, "dx": -22},
              "encoding": {
                "x": {"field": "conc", "type": "quantitative", "scale": {"type": "log", "domain": [0.000316, 1000], "nice": false}, "axis": {"values": [0.001, 0.01, 0.1, 1, 10, 100, 1000], "format": "~g", "title": "[Nb] in nM", "labelAngle": -45, "labelFontSize": 12, "titleFontSize": 14.5, "titleX": 54, "titlePadding": 10}},
                "y": {"field": "m", "type": "quantitative", "scale": {"domain": [0, 15], "nice": false}, "axis": null},
                "color": {"field": "t", "type": "nominal", "scale": {"domain": ["C5", "C3", "C4", "PBS"], "range": ["#A50F0F", "#D6D6D6", "#A3A3A3", "#6B6B6B"]}, "legend": {"title": null, "orient": "none", "legendX": -21, "legendY": 4, "labelFontSize": 14.5, "labelFontWeight": "normal", "symbolSize": 90, "rowPadding": 5.5, "symbolOpacity": 1}}
              },
              "layer": [
                {
                  "data": {"name": "bindFit"},
                  "transform": [{"filter": "datum.nb == 'UNbC5-2'"}],
                  "mark": {"type": "line", "interpolate": "monotone", "strokeWidth": 1.3}
                },
                {
                  "data": {"name": "bind"},
                  "transform": [{"filter": "datum.nb == 'UNbC5-2' && datum.conc > 0 && datum.lo != null"}],
                  "mark": {"type": "errorbar", "ticks": {"size": 9}, "thickness": 1.3},
                  "encoding": {
                    "y": {"field": "lo", "type": "quantitative", "scale": {"domain": [0, 15], "nice": false}, "axis": null},
                    "y2": {"field": "hi"}
                  }
                },
                {
                  "data": {"name": "bind"},
                  "transform": [{"filter": "datum.nb == 'UNbC5-2' && datum.conc > 0"}],
                  "mark": {"type": "point", "filled": true, "size": 90, "opacity": 1},
                  "encoding": {
                    "shape": {"field": "t", "type": "nominal", "scale": {"domain": ["C5", "C3", "C4", "PBS"], "range": ["circle", "triangle-up", "triangle-down", "circle"]}, "legend": {"title": null, "orient": "none", "legendX": -21, "legendY": 4, "labelFontSize": 14.5, "labelFontWeight": "normal", "symbolSize": 90, "rowPadding": 5.5, "symbolOpacity": 1}}
                  }
                }
              ]
            }
          ]
        }
      ]
    }
  ]
}
